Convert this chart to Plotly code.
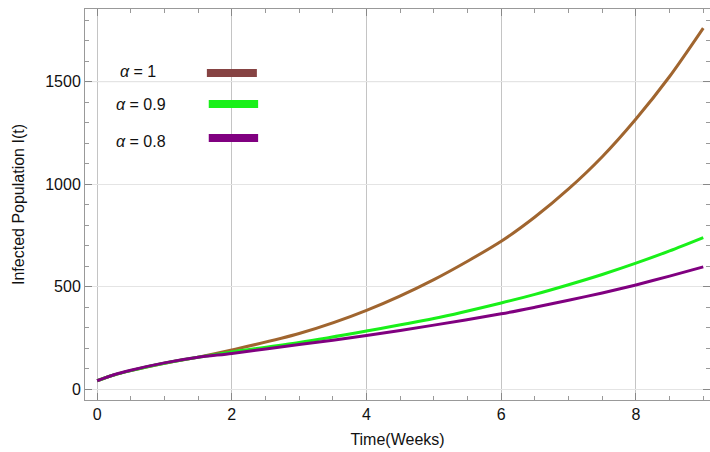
import plotly.graph_objects as go

t = [0, 0.25, 0.5, 1, 1.5, 2, 3, 4, 5, 6, 6.5, 7, 7.5, 8, 8.5, 9]
I_a1 = [42, 70, 91, 127, 157, 192, 272, 385, 535, 722, 840, 977, 1134, 1318, 1525, 1761]
I_a09 = [42, 70, 91, 127, 156, 182, 228, 284, 345, 421, 463, 510, 560, 615, 675, 740]
I_a08 = [42, 71, 93, 129, 156, 175, 218, 262, 313, 368, 400, 434, 470, 509, 552, 597]

labels = ["α = 1", "α = 0.9", "α = 0.8"]
curve_colors = ["#A0652F", "#19F019", "#800080"]
legend_colors = ["#864343", "#19F019", "#800080"]
series = [I_a1, I_a09, I_a08]

x_ticks = [0, 2, 4, 6, 8]
y_ticks = [0, 500, 1000, 1500]
y_dark_grid = [1500]

FONT = "Liberation Sans, Arial, sans-serif"

fig = go.Figure()
for ys, c, name in zip(series, curve_colors, labels):
    fig.add_trace(go.Scatter(x=t, y=ys, mode="lines", name=name,
                             line=dict(color=c, width=3, shape="spline", smoothing=0.8),
                             showlegend=False))

# legend drawn manually (Mathematica style)
leg_x0 = [0.195, 0.198, 0.198]
leg_x1 = [0.275, 0.277, 0.277]
leg_y = [0.836, 0.757, 0.670]
txt_x = [0.053, 0.046, 0.046]
txt_y = [0.839, 0.757, 0.662]
for lab, c, x0, x1, ly, tx, ty in zip(labels, legend_colors, leg_x0, leg_x1, leg_y, txt_x, txt_y):
    fig.add_shape(type="line", xref="paper", yref="paper",
                  x0=x0, x1=x1, y0=ly, y1=ly,
                  line=dict(color=c, width=8))
    fig.add_annotation(xref="paper", yref="paper", x=tx, y=ty,
                       text=lab.replace("α", "<i>α</i>"),
                       showarrow=False, xanchor="left", yanchor="middle",
                       font=dict(size=16, color="#111", family=FONT))

for yv in y_dark_grid:
    fig.add_shape(type="line", xref="paper", yref="y", x0=0, x1=1, y0=yv, y1=yv,
                  line=dict(color="#c4c4c4", width=1), layer="below")

fig.update_layout(
    width=710, height=452,
    margin=dict(l=85, r=0, t=9, b=52, autoexpand=False),
    paper_bgcolor="white", plot_bgcolor="white",
    font=dict(family=FONT, size=16, color="#111"),
)
fig.update_xaxes(
    range=[-0.18, 9.1], tickvals=x_ticks, ticks="inside", ticklen=7, tickcolor="#888",
    showline=True, linecolor="#999", linewidth=1, mirror="ticks",
    showgrid=True, gridcolor="#c4c4c4", gridwidth=1, zeroline=False,
    minor=dict(dtick=0.5, ticks="inside", ticklen=4, tickcolor="#999", showgrid=False),
    title=dict(text="Time(Weeks)", font=dict(size=16), standoff=11),
    tickfont=dict(size=16), automargin=False,
)
fig.update_yaxes(
    range=[-52, 1854], tickvals=y_ticks, ticks="inside", ticklen=7, tickcolor="#888",
    showline=True, linecolor="#999", linewidth=1, mirror="ticks",
    showgrid=True, gridcolor="#e4e4e4", gridwidth=1, zeroline=False,
    minor=dict(dtick=100, ticks="inside", ticklen=4, tickcolor="#999", showgrid=False),
    title=dict(text="Infected Population I(t)", font=dict(size=16), standoff=16),
    tickfont=dict(size=16), automargin=False,
)

fig.write_html("out.html", config={"displayModeBar": False},
               post_script="document.body.style.margin='0';document.body.style.overflow='hidden';")
